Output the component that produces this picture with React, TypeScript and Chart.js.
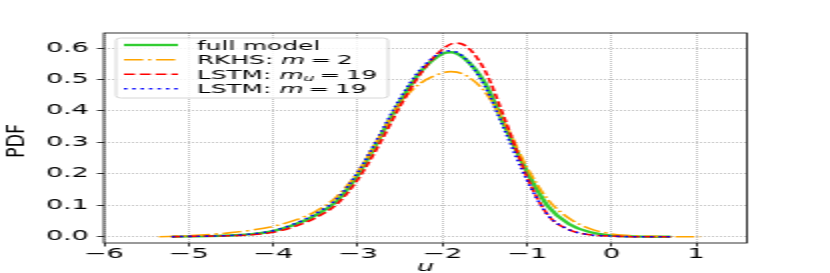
import { useEffect, useRef } from 'react';
import { Chart, registerables } from 'chart.js';

Chart.register(...registerables);

// ---- data ----
const fullModelX = [-5.2, -5.0, -4.75, -4.5, -4.25, -4.0, -3.75, -3.5, -3.25, -3.0, -2.75, -2.5, -2.25, -2.0, -1.9, -1.75, -1.5, -1.25, -1.0, -0.75, -0.5, -0.25, 0.0, 0.25, 0.5, 0.7];
const fullModelY = [0.0, 0.001, 0.002, 0.004, 0.008, 0.018, 0.038, 0.068, 0.113, 0.197, 0.31, 0.43, 0.527, 0.582, 0.587, 0.57, 0.49, 0.345, 0.207, 0.096, 0.04, 0.014, 0.004, 0.001, 0.0, 0.0];

const rkhsX = [-5.35, -5.0, -4.75, -4.5, -4.25, -4.0, -3.75, -3.5, -3.25, -3.0, -2.75, -2.5, -2.25, -2.0, -1.9, -1.75, -1.5, -1.25, -1.0, -0.75, -0.5, -0.25, 0.0, 0.25, 0.5, 0.75, 1.05];
const rkhsY = [0.0, 0.003, 0.007, 0.013, 0.021, 0.033, 0.052, 0.08, 0.127, 0.205, 0.315, 0.425, 0.49, 0.521, 0.525, 0.517, 0.462, 0.355, 0.22, 0.117, 0.058, 0.025, 0.009, 0.003, 0.001, 0.0, 0.0];

const lstmMuX = [-5.2, -5.0, -4.75, -4.5, -4.25, -4.0, -3.75, -3.5, -3.25, -3.0, -2.75, -2.5, -2.25, -2.0, -1.85, -1.75, -1.5, -1.25, -1.0, -0.75, -0.5, -0.25, 0.0, 0.25, 0.5, 0.7];
const lstmMuY = [0.0, 0.001, 0.002, 0.003, 0.006, 0.014, 0.032, 0.06, 0.103, 0.182, 0.292, 0.415, 0.522, 0.596, 0.616, 0.611, 0.53, 0.365, 0.19, 0.068, 0.022, 0.006, 0.002, 0.0, 0.0, 0.0];

const lstmMX = [-5.2, -5.0, -4.75, -4.5, -4.25, -4.0, -3.75, -3.5, -3.25, -3.0, -2.75, -2.5, -2.25, -2.0, -1.9, -1.75, -1.5, -1.25, -1.0, -0.75, -0.5, -0.25, 0.0, 0.25, 0.5, 0.7];
const lstmMY = [0.0, 0.001, 0.002, 0.004, 0.009, 0.019, 0.041, 0.073, 0.12, 0.205, 0.32, 0.44, 0.535, 0.587, 0.591, 0.572, 0.48, 0.33, 0.18, 0.068, 0.022, 0.006, 0.002, 0.0, 0.0, 0.0];

const seriesLabels = ['full model', 'RKHS: m = 2', 'LSTM: m_u = 19', 'LSTM: m = 19'];
// legend text pieces (mathtext-like): [text, italic, subscript]
const legendParts: [string, boolean, boolean][][] = [
  [['full model', false, false]],
  [['RKHS: ', false, false], ['m', true, false], ['=', false, false], ['2', false, false]],
  [['LSTM: ', false, false], ['m', true, false], ['u', true, true], ['=', false, false], ['19', false, false]],
  [['LSTM: ', false, false], ['m', true, false], ['=', false, false], ['19', false, false]],
];

const xMin = -6;
const xMax = 1.6;
const yMin = -0.02;
const yMax = 0.648;
const xLabel = 'u';
const yLabel = 'PDF';

const FONT = "'DejaVu Sans', sans-serif";

function zip(xs: number[], ys: number[]) {
  return xs.map((x, i) => ({ x, y: ys[i] }));
}

function fmtTick(v: number, digits: number) {
  const s = Math.abs(v).toFixed(digits);
  return v < -1e-9 ? '\u2212' + s : s;
}

const decorPlugin = {
  id: 'decor',
  afterDraw(chart: any) {
    const ctx: CanvasRenderingContext2D = chart.ctx;
    const { left, right, top, bottom } = chart.chartArea;
    ctx.save();
    // spines
    ctx.setLineDash([]);
    ctx.strokeStyle = '#000';
    ctx.lineWidth = 0.8;
    ctx.strokeRect(left, top, right - left, bottom - top);

    // legend
    const bx = 58, by = 38, bw = 136, bh = 60, r = 2.5;
    ctx.beginPath();
    ctx.moveTo(bx + r, by);
    ctx.lineTo(bx + bw - r, by);
    ctx.quadraticCurveTo(bx + bw, by, bx + bw, by + r);
    ctx.lineTo(bx + bw, by + bh - r);
    ctx.quadraticCurveTo(bx + bw, by + bh, bx + bw - r, by + bh);
    ctx.lineTo(bx + r, by + bh);
    ctx.quadraticCurveTo(bx, by + bh, bx, by + bh - r);
    ctx.lineTo(bx, by + r);
    ctx.quadraticCurveTo(bx, by, bx + r, by);
    ctx.closePath();
    ctx.fillStyle = 'rgba(255,255,255,0.8)';
    ctx.fill();
    ctx.strokeStyle = '#cccccc';
    ctx.lineWidth = 0.8;
    ctx.stroke();

    const rows = [45, 59.7, 74.2, 88.7];
    const fs = 12.4;
    chart.data.datasets.forEach((ds: any, i: number) => {
      const yc = rows[i];
      ctx.save();
      ctx.strokeStyle = ds.borderColor;
      ctx.lineWidth = ds.borderWidth;
      ctx.setLineDash(ds.borderDash || []);
      ctx.beginPath();
      ctx.moveTo(62, yc);
      ctx.lineTo(89, yc);
      ctx.stroke();
      ctx.restore();

      let x = 98.5;
      const base = yc + 4.5;
      ctx.fillStyle = '#000';
      ctx.textBaseline = 'alphabetic';
      ctx.textAlign = 'left';
      const parts = legendParts[i];
      parts.forEach(([t, it, sub]) => {
        const size = sub ? fs * 0.7 : fs;
        ctx.font = `${it ? 'italic ' : ''}${size}px ${FONT}`;
        if (t === '=') x += 2.6;
        ctx.fillText(t, x, sub ? base + 2.6 : base);
        x += ctx.measureText(t).width;
        if (t === '=') x += 2.8;
      });
    });

    // axis titles
    ctx.fillStyle = '#000';
    ctx.font = `italic 13.6px ${FONT}`;
    ctx.textAlign = 'center';
    ctx.textBaseline = 'alphabetic';
    ctx.fillText(xLabel, (left + right) / 2, 271);

    ctx.save();
    ctx.translate(7.6, 141);
    ctx.scale(0.66, 1);
    ctx.rotate(-Math.PI / 2);
    ctx.font = `17.5px ${FONT}`;
    ctx.textAlign = 'center';
    ctx.textBaseline = 'alphabetic';
    ctx.fillText(yLabel, 0, 0.365 * 17.5);
    ctx.restore();

    ctx.restore();
  },
};

export default function App() {
  const ref = useRef<HTMLCanvasElement | null>(null);
  useEffect(() => {
    document.body.style.margin = '0';
    document.body.style.overflow = 'hidden';
    if (!ref.current) return;
    const tickFont = { family: FONT, size: 13.6 };
    const chart = new Chart(ref.current, {
      type: 'line',
      data: {
        datasets: [
          { label: seriesLabels[0], data: zip(fullModelX, fullModelY), borderColor: '#32CD32', borderWidth: 2.4, borderDash: [], order: 4 },
          { label: seriesLabels[1], data: zip(rkhsX, rkhsY), borderColor: '#FFA500', borderWidth: 1.6, borderDash: [9.6, 2.4, 1.6, 2.4], order: 3 },
          { label: seriesLabels[2], data: zip(lstmMuX, lstmMuY), borderColor: '#FF0000', borderWidth: 1.6, borderDash: [5.5, 2.4], order: 2 },
          { label: seriesLabels[3], data: zip(lstmMX, lstmMY), borderColor: '#0000FF', borderWidth: 1.6, borderDash: [1.6, 2.6], order: 1 },
        ] as any,
      },
      options: {
        animation: false,
        responsive: true,
        maintainAspectRatio: false,
        devicePixelRatio: 1,
        parsing: false as any,
        layout: { padding: { left: 0, right: 41.5, top: 33, bottom: 0 } },
        elements: {
          point: { radius: 0 },
          line: { cubicInterpolationMode: 'monotone', fill: false, borderCapStyle: 'butt' },
        },
        plugins: { legend: { display: false }, tooltip: { enabled: false } },
        scales: {
          x: {
            type: 'linear',
            min: xMin,
            max: xMax,
            afterFit: (s: any) => { s.height = 30; },
            ticks: {
              stepSize: 1,
              includeBounds: false,
              autoSkip: false,
              maxRotation: 0,
              padding: 0,
              color: '#000',
              font: tickFont,
              callback: (v: any) => fmtTick(Number(v), 0),
            },
            grid: { color: '#b0b0b0', lineWidth: 0.8, tickLength: 3.5, tickColor: '#000', tickWidth: 0.8 },
            border: { display: false, dash: [1, 1] },
          },
          y: {
            type: 'linear',
            min: yMin,
            max: yMax,
            afterFit: (s: any) => { s.width = 52; },
            ticks: {
              stepSize: 0.1,
              includeBounds: false,
              autoSkip: false,
              padding: 4,
              color: '#000',
              font: tickFont,
              callback: (v: any) => fmtTick(Number(v), 1),
            },
            grid: { color: '#b0b0b0', lineWidth: 0.8, tickLength: 3.5, tickColor: '#000', tickWidth: 0.8 },
            border: { display: false, dash: [1, 1] },
          },
        },
      } as any,
      plugins: [decorPlugin],
    });
    return () => chart.destroy();
  }, []);

  return (
    <div
      style={{
        position: 'absolute',
        left: 0,
        top: 0,
        width: 415,
        height: 273,
        transform: 'scaleX(2)',
        transformOrigin: '0 0',
      }}
    >
      <canvas ref={ref} />
    </div>
  );
}
